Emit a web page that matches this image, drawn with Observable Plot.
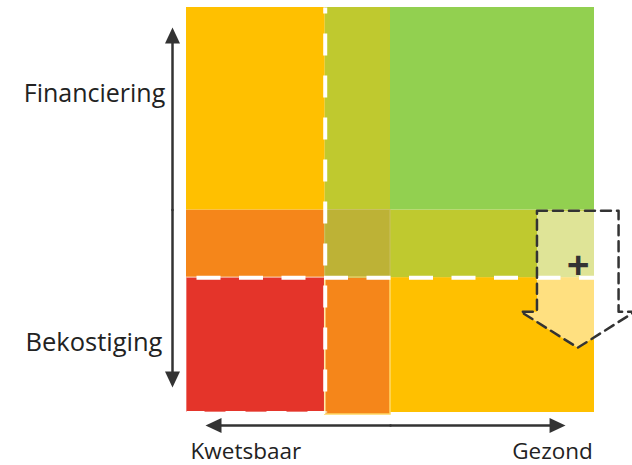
<!DOCTYPE html>
<html><head><meta charset="utf-8">
<script src="https://cdn.jsdelivr.net/npm/d3@7"></script>
<script src="https://cdn.jsdelivr.net/npm/@observablehq/plot@0.6"></script>
<style>
html,body{margin:0;padding:0;background:#fff;}
#chart svg{display:block;}
</style></head><body><div id="chart"></div>
<script>
// Square split into 3 columns (Kwetsbaar -> Gezond) and 3 rows (Bekostiging -> Financiering), in % of the square
const xBreaks = [0, 34, 50, 100];
const yBreaks = [0, 33.3, 50, 100];
// cell kinds, rows from bottom to top
const rowBottom = ["rood", "oranje", "geel"];
const rowBand   = ["oranje", "mix", "olijf"];
const rowTop    = ["geel", "olijf", "groen"];
const kinds  = ["geel", "oranje", "rood", "olijf", "groen", "mix"];
const xLabels = ["Kwetsbaar", "Gezond"];
const yLabels = ["Financiering", "Bekostiging"];
const plusLabel = "+";

const rows = [rowBottom, rowBand, rowTop];
const cells = [];
rows.forEach((row, r) => row.forEach((kind, c) => cells.push({
  x1: xBreaks[c], x2: xBreaks[c + 1], y1: yBreaks[r], y2: yBreaks[r + 1], kind, r, c
})));
const redCell = cells.filter(d => d.kind === "rood");
const midBottom = cells.filter(d => d.r === 0 && d.c === 1);
const midBand = cells.filter(d => d.r === 1 && d.c === 1);

// the dashed "move" arrow (down), in square units
const moveArrow = [
  {x: 85.9, y: 49.8}, {x: 105.9, y: 49.8}, {x: 105.9, y: 24.9}, {x: 109.9, y: 24.9},
  {x: 95.9, y: 16.0}, {x: 81.9, y: 24.9}, {x: 85.9, y: 24.9}
];
const axisArrows = [
  {x1: -3.43, y1: 50, x2: -3.43, y2: 95.06, a: 0},
  {x1: -3.43, y1: 50, x2: -3.43, y2: 6.17, a: 180},
  {x1: 50, y1: -3.2, x2: 4.66, y2: -3.2, a: -90},
  {x1: 50, y1: -3.2, x2: 92.9, y2: -3.2, a: 90}
];
const headSymbol = {
  draw(ctx) { const w = 7.5, h = 16; ctx.moveTo(0, 0); ctx.lineTo(w, h); ctx.lineTo(-w, h); ctx.closePath(); }
};

const plot = Plot.plot({
  width: 632, height: 465, margin: 0,
  x: {domain: [0, 100], range: [186, 594], axis: null},
  y: {domain: [0, 100], range: [412, 7], axis: null},
  color: {domain: kinds, range: ["#FFC000", "#F5861A", "#E4342A", "#BFC92F", "#92D050", "#BDB236"]},
  style: {fontFamily: "'Open Sans', sans-serif", background: "white", overflow: "visible"},
  marks: [
    Plot.rect(cells, {x1: "x1", x2: "x2", y1: "y1", y2: "y2", fill: "kind"}),
    Plot.rect(midBottom, {x1: "x1", x2: "x2", y1: -0.5, y2: "y2", fill: "kind", stroke: "#FFD966", strokeWidth: 1.5}),
    Plot.rect(midBand, {x1: "x1", x2: "x2", y1: "y1", y2: "y2", fill: "none", stroke: "#C9C060", strokeWidth: 1}),
    Plot.rect(redCell, {x1: "x1", x2: "x2", y1: "y1", y2: "y2", fill: "none", stroke: "white", strokeOpacity: 0.45, strokeWidth: 1.5}),
    Plot.link(redCell, {x1: "x1", x2: "x2", y1: "y1", y2: "y1", stroke: "white", strokeWidth: 3, strokeDasharray: "20,21", strokeDashoffset: 2}),
    Plot.link([{x1: 34, y1: 100, x2: 34, y2: 0}], {x1: "x1", y1: "y1", x2: "x2", y2: "y2", stroke: "white", strokeWidth: 4, strokeDasharray: "22,20", strokeDashoffset: 16}),
    Plot.link([{x1: 0, y1: 33.3, x2: 100, y2: 33.3}], {x1: "x1", y1: "y1", x2: "x2", y2: "y2", stroke: "white", strokeWidth: 4, strokeDasharray: "24,18.5", strokeDashoffset: 32.5}),
    Plot.line(moveArrow, {x: "x", y: "y", curve: "linear-closed", fill: "white", fillOpacity: 0.5, stroke: "#333", strokeWidth: 2.5, strokeDasharray: "10,6"}),
    Plot.text([plusLabel], {x: 96, y: 36.2, text: d => d, fontSize: 40, fontWeight: "bold", fill: "#333"}),
    Plot.arrow(axisArrows, {x1: "x1", y1: "y1", x2: "x2", y2: "y2", stroke: "#333", strokeWidth: 2.5, headLength: 0, insetEnd: 10}),
    Plot.dot(axisArrows, {x: "x2", y: "y2", symbol: headSymbol, rotate: "a", r: 5, fill: "#333", stroke: "none"}),
    Plot.text([yLabels[0]], {x: -5.2, y: 78.6, text: d => d, textAnchor: "end", fontSize: 25, fill: "#222"}),
    Plot.text([yLabels[1]], {x: -5.9, y: 17.1, text: d => d, textAnchor: "end", fontSize: 25.5, fill: "#222"}),
    Plot.text([xLabels[0]], {x: 1, y: -9.8, text: d => d, textAnchor: "start", fontSize: 22.5, fill: "#222"}),
    Plot.text([xLabels[1]], {x: 99.6, y: -9.8, text: d => d, textAnchor: "end", fontSize: 22.5, fill: "#222"})
  ]
});
document.getElementById("chart").appendChild(plot);
</script></body></html>
